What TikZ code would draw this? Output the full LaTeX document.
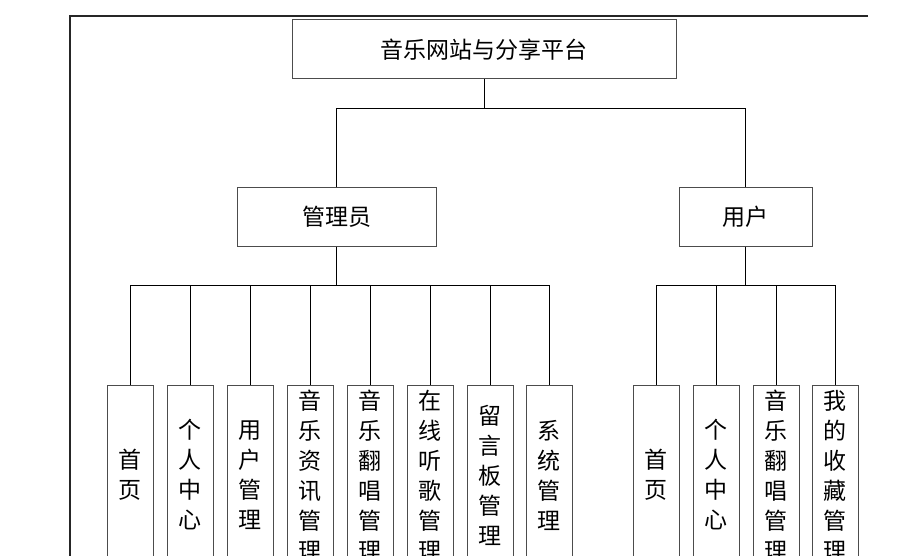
\documentclass[tikz,border=0pt]{standalone}
\usepackage{fontspec}
\setmainfont{Noto Sans CJK SC}

\begin{document}
\begin{tikzpicture}[x=1pt, y=-1pt,
    box/.style={draw=black!70, line width=1pt, fill=white, inner sep=0pt,
                font=\fontsize{23}{30}\selectfont},
    leaf/.style={box, minimum width=46pt, minimum height=180pt, align=center},
    link/.style={draw=black, line width=0.8pt}]
  \useasboundingbox (0,0) rectangle (907,556);
  \draw[line width=2pt, black!85] (868,16) -- (70,16) -- (70,556);

  \node[box, minimum width=384pt, minimum height=59pt] (root)  at (484,49.5)  {音乐网站与分享平台};
  \node[box, minimum width=199pt, minimum height=58pt] (admin) at (336.5,217) {管理员};
  \node[box, minimum width=133pt, minimum height=58pt] (user)  at (745.5,217) {用户};

  \foreach \x/\t [count=\i] in {130/首\\页, 190/个\\人\\中\\心, 250/用\\户\\管\\理,
      310/音\\乐\\资\\讯\\管\\理, 370/音\\乐\\翻\\唱\\管\\理, 430/在\\线\\听\\歌\\管\\理,
      490/留\\言\\板\\管\\理, 549/系\\统\\管\\理}
    \node[leaf] (a\i) at (\x,475) {\t};
  \foreach \x/\t [count=\i] in {656/首\\页, 716/个\\人\\中\\心,
      776/音\\乐\\翻\\唱\\管\\理, 835/我\\的\\收\\藏\\管\\理}
    \node[leaf] (u\i) at (\x,475) {\t};

  \draw[link] (root.south) -- ++(0,29) coordinate (rootbus);
  \draw[link] (admin.north) |- (rootbus) -| (user.north);
  \draw[link] (admin.south) -- ++(0,39) coordinate (abus);
  \draw[link] (user.south) -- ++(0,39) coordinate (ubus);
  \foreach \i in {1,...,8}
    \draw[link] (a\i.north) |- (abus);
  \foreach \i in {1,...,4}
    \draw[link] (u\i.north) |- (ubus);
\end{tikzpicture}
\end{document}
